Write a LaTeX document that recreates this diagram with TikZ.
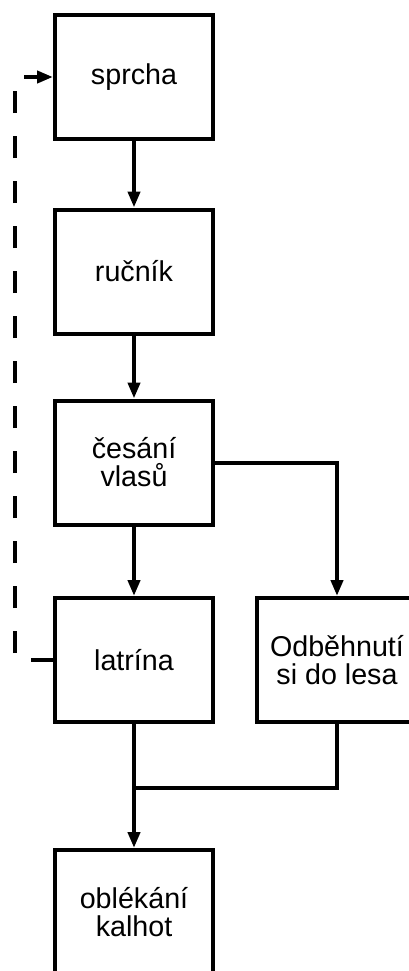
\documentclass[tikz,border=0pt]{standalone}
\usepackage{fontspec}
\setmainfont{Liberation Sans}
\usetikzlibrary{arrows.meta}

\begin{document}
\begin{tikzpicture}[x=0.75pt,y=-0.75pt,line width=3pt,
		krok/.style={draw,minimum width=118.5pt,minimum height=93pt,align=center,font=\fontsize{21.5}{21}\selectfont},
		sipka/.style={-{Triangle[length=12pt,width=9pt]}}]
		\clip (0,0) rectangle (409,971);
		\node[krok] (sprcha) at (134,77) {sprcha};
		\node[krok] (rucnik) at (134,271.5) {ručník};
		\node[krok] (cesani) at (134,462.5) {česání\\vlasů};
		\node[krok] (latrina) at (134,660) {latrína};
		\node[krok,minimum width=120pt] (les) at (337,660) {Odběhnutí\\si do lesa};
		\node[krok] (kalhoty) at (134,912) {oblékání\\kalhot};
		\path (latrina.south) ++(0,64) coordinate (spoj);
		\draw[sipka] (sprcha) -- (rucnik);
		\draw[sipka] (rucnik) -- (cesani);
		\draw[sipka] (cesani) -- (latrina);
		\draw[sipka] (cesani.east) -| (les.north);
		\draw[sipka] (latrina) -- (kalhoty);
		\draw (les.south) |- (spoj);
		\draw[sipka,dash pattern=on 16.5pt off 17.25pt] (latrina.west) -- ++(-38,0) |- (sprcha.west);
	\end{tikzpicture}
\end{document}
